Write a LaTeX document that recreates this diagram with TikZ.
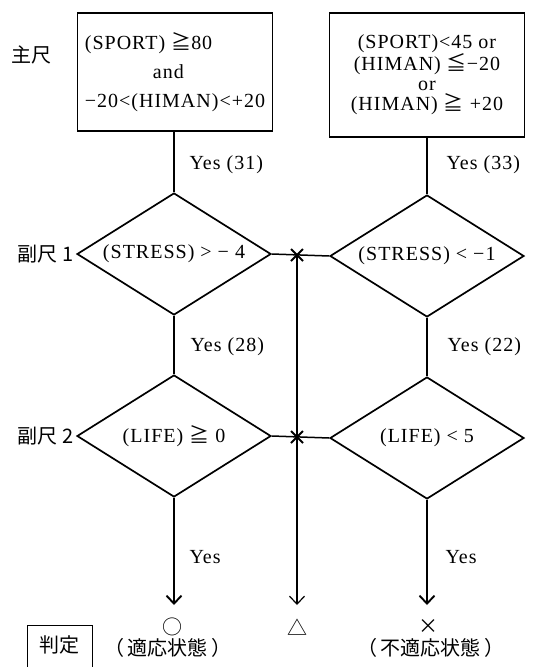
\documentclass[tikz,border=0pt]{standalone}
\usepackage{fontspec}
\setmainfont{Liberation Serif}[LetterSpace=5]
\newfontfamily\jp{Noto Sans CJK JP}
\usetikzlibrary{shapes.geometric,arrows.meta}

\begin{document}
\begin{tikzpicture}[x=1pt,y=-1pt,
  txt/.style={font=\fontsize{20}{22}\selectfont},
  jptxt/.style={font=\jp\fontsize{20}{22}\selectfont},
  rulebox/.style={draw,line width=1.7pt,minimum width=195pt,inner sep=0pt,align=center,txt},
  cond/.style={draw,diamond,line width=1.7pt,minimum width=194pt,minimum height=122pt,inner sep=0pt,aspect=1.6,txt},
  stem/.style={line width=1.2pt},
  arr/.style={line width=1.9pt,-{Straight Barb[length=8pt,width=15pt]}},
  crossline/.style={line width=1.9pt}
]
\useasboundingbox (0,0) rectangle (535,667);

\newcommand\XM{297}

%% boxes
\node[rulebox,minimum height=118pt,align=left] (boxL) at (175,72)
  {(SPORT) {\jp ≧}80\\[7pt]\hspace*{3.4em}and\\[7pt]−20<(HIMAN)<+20};
\node[rulebox,minimum height=124pt] (boxR) at (427,75)
  {(SPORT)<45 or\\(HIMAN) {\jp ≦}−20\\[-2pt]or\\[-2pt](HIMAN) {\jp ≧} +20};

%% diamonds
\node[cond] (condL1) at (174,254) {(STRESS) > − 4};
\node[cond] (condR1) at (427,256) {(STRESS) < −1};
\node[cond] (condL2) at (174,436) {(LIFE) {\jp ≧} 0};
\node[cond] (condR2) at (427,438) {(LIFE) < 5};

%% side labels
\node[jptxt] (main) at (32,55) {主尺};
\node[jptxt,anchor=east] (sub1) at (77,254) {副尺 1};
\node[jptxt,anchor=east] (sub2) at (77,436) {副尺 2};

%% stems
\draw[stem] (boxL.south -| condL1) -- (condL1);
\draw[stem] (boxR) -- (condR1);
\draw[stem] (condL1) -- (condL2);
\draw[stem] (condR1) -- (condR2);

\node[txt,anchor=west] (yesL1) at (186,165) {Yes (31)};
\node[txt,anchor=west] (yesR1) at (443,165) {Yes (33)};
\node[txt,anchor=west] (yesL2) at (187,347) {Yes (28)};
\node[txt,anchor=west] (yesR2) at (444,347) {Yes (22)};
\node[txt,anchor=west] (yesL3) at (186,557) {Yes};
\node[txt,anchor=west] (yesR3) at (442,557) {Yes};

%% middle
\coordinate (cross1) at (\XM,255);
\coordinate (cross2) at (\XM,437);
\draw[line width=1.5pt] (condL1.east) -- (condR1.west);
\draw[line width=1.5pt] (condL2.east) -- (condR2.west);
\draw[crossline] ([shift={(-6,-6)}]cross1) -- ([shift={(6,6)}]cross1);
\draw[crossline] ([shift={(-6,6)}]cross1) -- ([shift={(6,-6)}]cross1);
\draw[crossline] ([shift={(-6,-6)}]cross2) -- ([shift={(6,6)}]cross2);
\draw[crossline] ([shift={(-6,6)}]cross2) -- ([shift={(6,-6)}]cross2);

%% arrows
\coordinate (endL) at (174,605);
\coordinate (endM) at (\XM,605);
\coordinate (endR) at (427,605);
\draw[arr] (condL2.south) -- (endL);
\draw[arr,line width=1.2pt] (cross1) -- (endM);
\draw[arr] (condR2.south) -- (endR);

%% results
\node[jptxt] (good) at (172,627) {○};
\node[jptxt] (mid) at (\XM,627) {△};
\node[jptxt] (bad) at (428,627) {×};
\node[jptxt] (goodtxt) at (168,648) {（\,適応状態\,）};
\node[jptxt] (badtxt) at (431,648) {（\,不適応状態\,）};
\node[draw,line width=0.9pt,minimum width=65pt,minimum height=48pt,anchor=north west] (judge) at (27,625) {};
\node[jptxt] (judgetxt) at (59.5,645) {判定};

\end{tikzpicture}
\end{document}
